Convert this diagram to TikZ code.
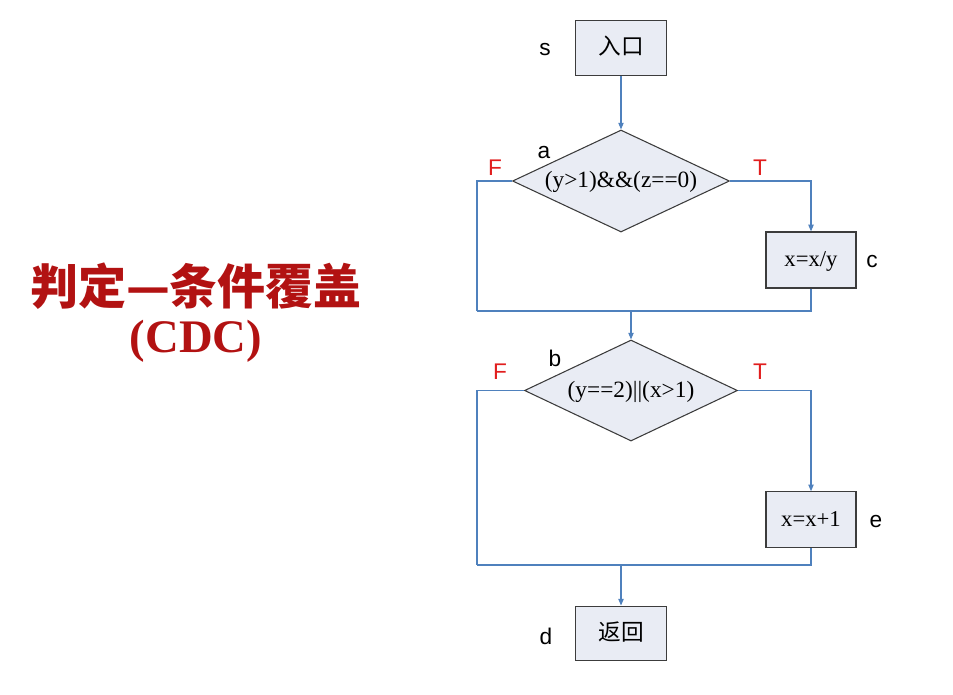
\documentclass[tikz,border=0pt]{standalone}
\usepackage{fontspec}
\setmainfont{Liberation Serif}
\setsansfont{Liberation Sans}
\newfontfamily\cjk{Noto Sans CJK SC}
\usetikzlibrary{shapes.geometric,arrows.meta}
\definecolor{boxfill}{RGB}{233,236,244}
\definecolor{boxline}{RGB}{60,60,60}
\definecolor{conn}{RGB}{79,129,189}
\definecolor{lblred}{RGB}{225,30,30}
\definecolor{titlered}{RGB}{178,18,18}
\tikzset{
  procbox/.style={draw=boxline,fill=boxfill,line width=0.9pt,minimum width=68pt,minimum height=41pt,inner sep=0pt,text height=12pt,text depth=2pt,font=\fontsize{17}{19}\selectfont},
  decbox/.style={draw=boxline,fill=boxfill,line width=0.8pt,diamond,aspect=2.13,inner sep=0pt,text height=12pt,text depth=2pt,font=\fontsize{17.5}{19}\selectfont},
  conline/.style={draw=conn,line width=0.8pt},
  arr/.style={conline,-{Triangle[length=5pt,width=4pt]}},
  lbl/.style={font=\sffamily\fontsize{17}{19}\selectfont},
  tf/.style={font=\sffamily\fontsize{17}{19}\selectfont,text=lblred},
}
\begin{document}
\begin{tikzpicture}[x=0.75pt,y=-0.75pt]
\useasboundingbox (0,0) rectangle (953,694);
% title
\node[text=titlered,font=\cjk\bfseries\fontsize{36}{40}\selectfont] (title1) at (196,286) {判定—条件覆盖};
\node[text=titlered,font=\bfseries\fontsize{35}{38}\selectfont] (title2) at (196,341) {(CDC)};
% nodes
\node[procbox] (s) at (621,48) {\cjk 入口};
\node[decbox,minimum width=162.75pt,minimum height=76.5pt] (a) at (621,181) {(y>1)\&\&(z==0)};
\node[procbox,minimum width=67.5pt,minimum height=42pt] (c) at (811,260) {x=x/y};
\node[decbox,minimum width=159.75pt,minimum height=75.75pt] (b) at (631,390.5) {(y==2)||(x>1)};
\node[procbox,minimum width=67.5pt,minimum height=41.5pt] (e) at (811,519.5) {x=x+1};
\node[procbox] (d) at (621,633.5) {\cjk 返回};
% labels
\node[lbl] (ls) at (545,50) {s};
\node[lbl] (la) at (544,153) {a};
\node[lbl] (lc) at (872,262) {c};
\node[lbl] (lb) at (555,358) {b};
\node[lbl] (le) at (876,521) {e};
\node[lbl] (ld) at (546,636) {d};
\node[tf] (fa) at (495,168) {F};
\node[tf] (ta) at (760,168) {T};
\node[tf] (fb) at (500,372) {F};
\node[tf] (tb) at (760,372) {T};
% junctions
\coordinate (l1) at (477,311);
\coordinate (m1) at (631,311);
\coordinate (l2) at (477,565);
\coordinate (m2) at (621,565);
% connectors
\draw[arr] (s) -- (a);
\draw[arr] (a.east) -| (c.north);
\draw[conline] (a.west) -| (l1);
\draw[conline] (c.south) |- (l1);
\draw[arr] (m1) -- (b.north);
\draw[arr] (b.east) -| (e.north);
\draw[conline] (b.west) -| (l2);
\draw[conline] (e.south) |- (l2);
\draw[arr] (m2) -- (d.north);
\end{tikzpicture}
\end{document}
